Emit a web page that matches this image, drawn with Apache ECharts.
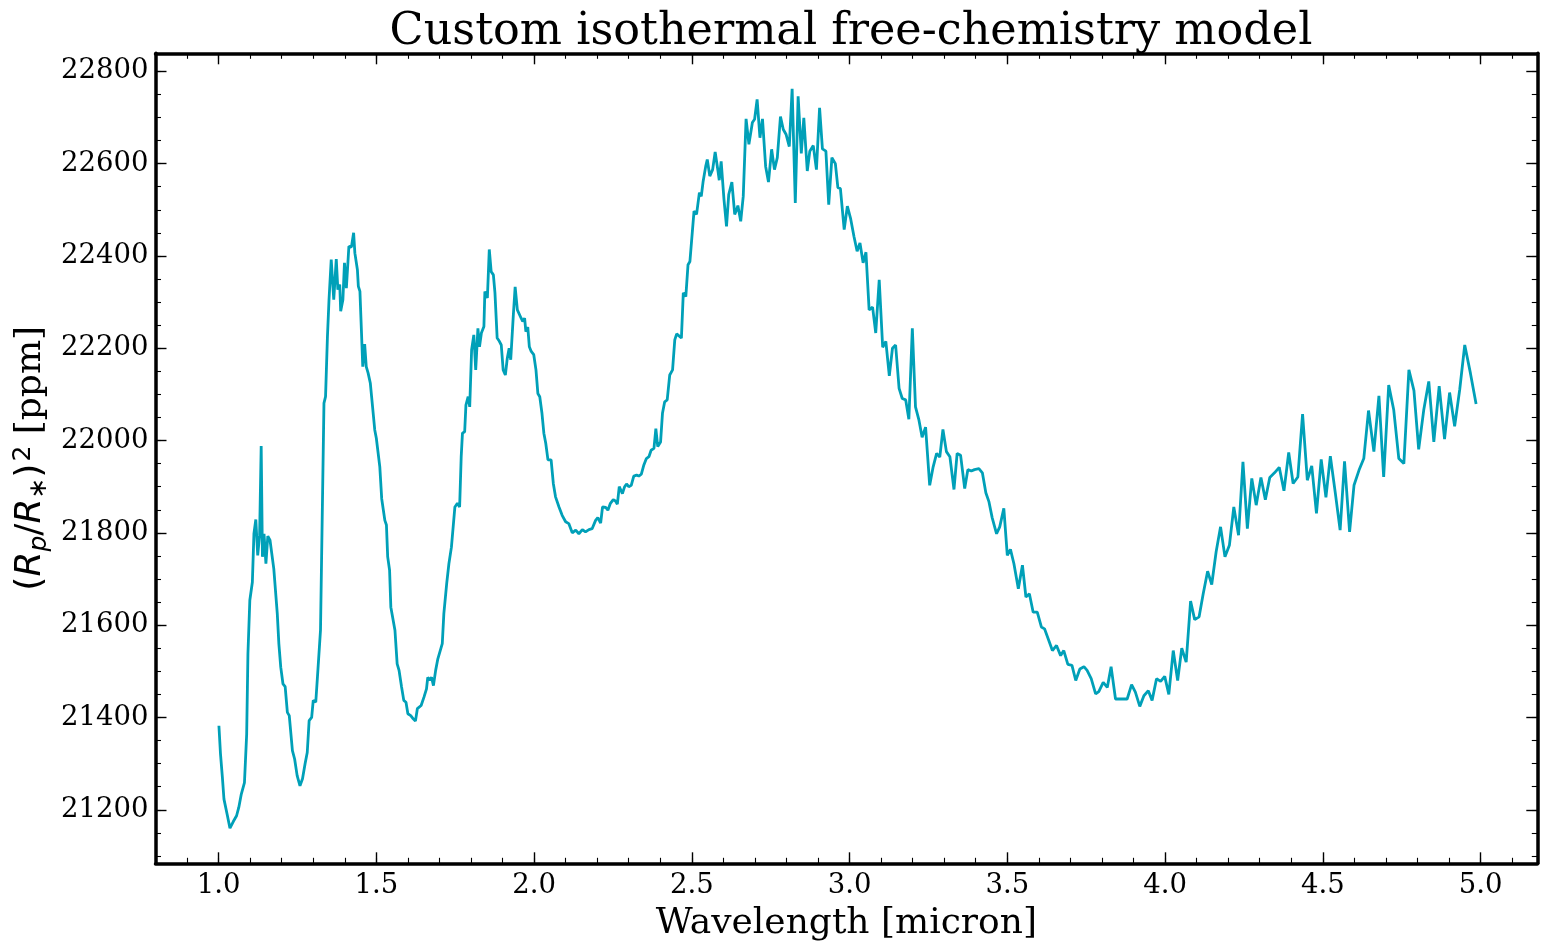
<!DOCTYPE html>
<html>
<head>
<meta charset="utf-8">
<title>Custom isothermal free-chemistry model</title>
<script src="https://cdn.jsdelivr.net/npm/echarts@6/dist/echarts.min.js"></script>
<style>
  html, body { margin: 0; padding: 0; background: #fff; }
  #main { width: 1548px; height: 947px; }
</style>
</head>
<body>
<div id="main"></div>
<script>
// wavelength in micron
var wavelength = [
  1.001,1.006,1.012,1.017,1.028,1.036,1.047,1.057,1.064,1.072,1.082,1.089,1.093,1.099,1.107,1.112,1.118,1.124,1.130,1.135,
  1.139,1.144,1.150,1.156,1.163,1.167,1.175,1.186,1.191,1.197,1.204,1.211,1.218,1.224,1.234,1.241,1.249,1.258,1.266,1.274,
  1.281,1.287,1.295,1.300,1.308,1.313,1.318,1.323,
  1.334,1.339,1.345,1.350,1.357,1.365,1.373,1.378,1.384,1.387,1.394,1.399,1.405,1.413,1.421,1.428,1.432,1.440,1.443,1.448,
  1.453,1.457,1.463,1.468,1.474,1.481,1.485,1.491,1.495,1.500,1.506,1.511,1.517,1.522,1.527,1.532,1.536,1.542,1.546,1.552,
  1.559,1.566,1.572,1.580,
  1.587,1.594,1.600,1.609,1.617,1.624,1.630,1.635,1.642,1.651,1.659,1.663,1.670,1.675,1.681,1.688,1.695,1.701,1.709,1.714,
  1.723,1.730,1.738,1.744,1.749,1.757,1.764,1.769,1.773,1.780,1.784,1.791,1.796,1.802,1.809,1.815,1.822,1.827,1.833,1.841,
  1.844,1.852,1.858,1.864,1.871,1.876,1.883,1.890,1.896,1.902,1.909,1.915,1.921,1.926,1.934,1.940,1.947,1.953,1.959,1.964,
  1.970,1.974,1.980,1.985,1.991,1.999,2.006,2.012,2.018,2.025,2.031,2.037,2.044,2.054,2.061,
  2.068,2.079,2.089,2.100,2.110,2.121,2.132,2.142,2.153,2.163,2.174,2.184,2.195,2.202,2.211,2.217,2.227,2.234,2.242,2.251,
  2.258,2.264,2.270,2.280,2.287,2.293,2.300,2.308,2.316,2.325,2.332,2.340,2.348,2.356,2.364,2.371,2.380,2.386,2.392,2.401,
  2.407,2.414,2.422,2.430,2.439,2.446,2.452,2.458,2.467,2.473,2.481,2.488,2.494,2.500,2.507,2.515,2.524,2.530,2.536,2.544,
  2.549,2.557,2.566,2.574,2.583,2.587,2.593,2.602,2.610,2.617,2.627,2.636,2.642,2.646,2.655,2.663,2.672,2.681,
  2.692,2.699,2.707,2.716,2.724,2.734,2.743,2.753,2.762,2.771,2.781,2.790,2.799,2.809,2.818,2.828,2.837,2.847,2.855,2.866,
  2.874,2.885,2.895,2.905,2.914,2.925,2.934,2.944,2.955,2.963,2.971,2.983,2.993,3.003,3.014,3.024,3.033,3.043,3.052,3.062,
  3.073,3.083,3.094,3.105,3.115,3.126,3.136,3.146,3.157,
  3.167,3.178,3.188,3.199,3.209,3.220,3.230,3.241,3.254,3.265,3.276,3.286,3.296,3.307,3.318,3.331,3.341,3.352,3.365,3.375,
  3.386,3.396,3.410,3.421,3.432,3.442,3.452,3.466,3.476,3.489,3.500,3.510,3.521,3.535,3.548,3.559,3.570,3.582,3.595,3.608,
  3.618,3.631,3.643,3.656,3.669,3.679,3.692,3.705,3.717,3.730,
  3.743,3.753,3.766,3.780,3.790,3.804,3.817,3.829,3.843,3.859,3.880,3.894,3.906,3.920,3.933,3.947,3.959,3.973,3.986,3.999,
  4.012,4.026,4.040,4.053,4.067,4.081,4.094,4.108,4.121,4.135,4.148,4.162,4.176,4.190,4.204,4.218,4.233,4.247,4.261,4.275,
  4.289,4.304,4.318,4.332,4.347,4.362,
  4.377,4.392,4.406,4.421,4.436,4.451,4.465,4.480,4.495,4.510,4.524,4.540,4.555,4.569,4.585,4.599,4.615,4.630,4.645,4.662,
  4.678,4.693,4.709,4.725,4.741,4.757,4.773,4.789,4.804,4.820,4.836,4.852,4.869,4.886,4.902,4.918,4.934,4.950,4.968,4.986
];

// (Rp/R*)^2 in ppm
var transitDepth = [
  21382,21321,21270,21223,21187,21160,21175,21187,21205,21234,21259,21364,21538,21654,21693,21798,21829,21751,21795,21988,
  21748,21798,21733,21793,21784,21788,21722,21625,21560,21509,21473,21467,21411,21404,21328,21310,21274,21252,21267,21299,
  21324,21393,21400,21437,21433,21484,21487,21589,
  22081,22095,22225,22305,22392,22305,22393,22327,22338,22280,22305,22385,22330,22421,22419,22450,22406,22370,22334,22323,
  22233,22160,22209,22160,22146,22124,22095,22095,22023,22005,22008,21943,21874,21871,21827,21817,21748,21719,21639,21636,
  21589,21516,21502,21466,
  21437,21433,21408,21404,21397,21392,21419,21415,21426,21444,21462,21487,21481,21487,21469,21502,21527,21531,21560,21625,
  21690,21733,21769,21773,21856,21864,21856,21965,22016,22019,22077,22095,22073,22196,22229,22153,22243,22203,22233,22247,
  22323,22309,22414,22366,22359,22320,22222,22215,22207,22153,22142,22178,22200,22175,22269,22333,22283,22287,22265,22258,
  22265,22236,22246,22203,22193,22186,22153,22102,22095,22059,22016,21994,21958,21958,21907,
  21878,21856,21838,21824,21820,21800,21806,21798,21807,21802,21807,21809,21827,21833,21821,21856,21855,21849,21864,21872,
  21869,21862,21900,21885,21900,21906,21900,21903,21923,21925,21923,21927,21947,21961,21965,21979,21983,22026,21987,21997,
  22059,22084,22088,22142,22153,22218,22231,22229,22222,22320,22312,22381,22388,22392,22497,22490,22537,22529,22562,22594,
  22609,22573,22587,22625,22584,22564,22605,22522,22464,22533,22560,22490,22500,22509,22475,22529,22697,22642,
  22689,22696,22739,22656,22697,22594,22560,22631,22587,22613,22702,22674,22663,22637,22762,22515,22746,22622,22699,22584,
  22627,22639,22587,22721,22632,22627,22511,22613,22600,22548,22546,22457,22508,22482,22442,22410,22428,22385,22408,22283,
  22289,22233,22348,22202,22215,22140,22200,22207,22113,
  22091,22088,22046,22243,22073,22044,22007,22029,21903,21943,21972,21964,22024,21976,21965,21894,21972,21968,21896,21937,
  21934,21937,21939,21930,21887,21867,21833,21798,21813,21853,21751,21764,21733,21679,21730,21661,21668,21628,21628,21596,
  21592,21568,21545,21556,21534,21545,21515,21513,21480,21505,
  21510,21502,21484,21451,21456,21476,21465,21510,21440,21440,21440,21471,21455,21424,21447,21458,21437,21484,21478,21489,
  21450,21545,21480,21550,21520,21652,21612,21618,21668,21717,21688,21759,21813,21748,21773,21856,21795,21954,21809,21918,
  21860,21920,21872,21920,21930,21942,
  21891,21974,21907,21921,22057,21914,21945,21842,21959,21877,21966,21885,21806,21955,21802,21903,21936,21961,22065,21976,
  22097,21921,22120,22066,21961,21950,22153,22108,21981,22066,22128,21997,22118,22003,22104,22031,22110,22207,22146,22079
];

var xTicks = [1.0, 1.5, 2.0, 2.5, 3.0, 3.5, 4.0, 4.5, 5.0];
var yTicks = [21200, 21400, 21600, 21800, 22000, 22200, 22400, 22600, 22800];

var xMin = 0.8, xMax = 5.18;
var yMin = 21084, yMax = 22839;

var xMinor = [];
for (var i = 9; i <= 51; i++) xMinor.push(Math.round(i * 10) / 100);
var yMinor = [];
for (var v = 21100; v <= 22800; v += 50) yMinor.push(v);

var lineColor = '#00a0b8';
var frame = { show: true, onZero: false, lineStyle: { color: '#000', width: 3.5 } };
var serif = 'DejaVu Serif';

function majorTick(vals) {
    return { show: true, inside: true, length: 11, customValues: vals, lineStyle: { color: '#000', width: 1.4 } };
}
function minorTick(vals) {
    return { show: true, inside: true, length: 5.5, customValues: vals, lineStyle: { color: '#000', width: 1.1 } };
}

var chart = echarts.init(document.getElementById('main'), null, { renderer: 'canvas' });

var option = {
    backgroundColor: '#fff',
    animation: false,
    title: {
        text: 'Custom isothermal free-chemistry model',
        left: 846,
        textAlign: 'center',
        top: 5,
        textStyle: { fontFamily: serif, fontSize: 44.5, fontWeight: 'normal', color: '#000' }
    },
    grid: {
        left: 155.5, right: 10.7, top: 53.3, bottom: 83.7,
        containLabel: false, outerBoundsMode: 'none'
    },
    xAxis: [
        {
            type: 'value', min: xMin, max: xMax, position: 'bottom',
            axisLine: frame,
            axisTick: majorTick(xTicks),
            axisLabel: {
                customValues: xTicks, margin: 9,
                formatter: function (v) { return v.toFixed(1); },
                fontFamily: serif, fontSize: 27.5, color: '#000'
            },
            splitLine: { show: false },
            name: 'Wavelength [micron]', nameLocation: 'middle', nameGap: 37,
            nameTextStyle: { fontFamily: serif, fontSize: 36, color: '#000', verticalAlign: 'top' }
        },
        {
            type: 'value', min: xMin, max: xMax, position: 'bottom',
            axisLine: { show: false }, axisTick: minorTick(xMinor),
            axisLabel: { show: false }, splitLine: { show: false }
        },
        {
            type: 'value', min: xMin, max: xMax, position: 'top',
            axisLine: frame, axisTick: majorTick(xTicks),
            axisLabel: { show: false }, splitLine: { show: false }
        },
        {
            type: 'value', min: xMin, max: xMax, position: 'top',
            axisLine: { show: false }, axisTick: minorTick(xMinor),
            axisLabel: { show: false }, splitLine: { show: false }
        }
    ],
    yAxis: [
        {
            type: 'value', min: yMin, max: yMax, position: 'left',
            axisLine: frame,
            axisTick: majorTick(yTicks),
            axisLabel: {
                customValues: yTicks, margin: 7,
                formatter: function (v) { return String(v); },
                fontFamily: serif, fontSize: 27.5, color: '#000'
            },
            splitLine: { show: false },
            name: '{n|(}{i|R}{sp|p}{n|/}{i|R}{ss|∗}{n|)}{up|2}{b| [ppm]}',
            nameLocation: 'middle', nameRotate: 90, nameGap: 100,
            nameMoveOverlap: false,
            nameTextStyle: {
                color: '#000',
                rich: {
                    n: { fontFamily: 'DejaVu Sans', fontSize: 36, lineHeight: 50, color: '#000' },
                    i: { fontFamily: 'DejaVu Sans', fontStyle: 'italic', fontSize: 36, lineHeight: 50, color: '#000' },
                    sp: { fontFamily: 'DejaVu Sans', fontStyle: 'italic', fontSize: 25, lineHeight: 50, verticalAlign: 'bottom', padding: [0, 0, 4, 0], color: '#000' },
                    ss: { fontFamily: 'DejaVu Sans', fontSize: 25, lineHeight: 50, verticalAlign: 'bottom', padding: [0, 0, 4, 0], color: '#000' },
                    up: { fontFamily: 'DejaVu Sans', fontSize: 25, lineHeight: 50, verticalAlign: 'top', padding: [5, 0, 0, 2], color: '#000' },
                    b: { fontFamily: serif, fontSize: 36, lineHeight: 50, color: '#000' }
                }
            }
        },
        {
            type: 'value', min: yMin, max: yMax, position: 'left',
            axisLine: { show: false }, axisTick: minorTick(yMinor),
            axisLabel: { show: false }, splitLine: { show: false }
        },
        {
            type: 'value', min: yMin, max: yMax, position: 'right',
            axisLine: frame, axisTick: majorTick(yTicks),
            axisLabel: { show: false }, splitLine: { show: false }
        },
        {
            type: 'value', min: yMin, max: yMax, position: 'right',
            axisLine: { show: false }, axisTick: minorTick(yMinor),
            axisLabel: { show: false }, splitLine: { show: false }
        }
    ],
    series: [
        {
            type: 'line',
            xAxisIndex: 0,
            yAxisIndex: 0,
            showSymbol: false,
            symbol: 'none',
            data: wavelength.map(function (w, k) { return [w, transitDepth[k]]; }),
            lineStyle: { color: lineColor, width: 2.8 },
            itemStyle: { color: lineColor }
        }
    ]
};

chart.setOption(option);
</script>
</body>
</html>
